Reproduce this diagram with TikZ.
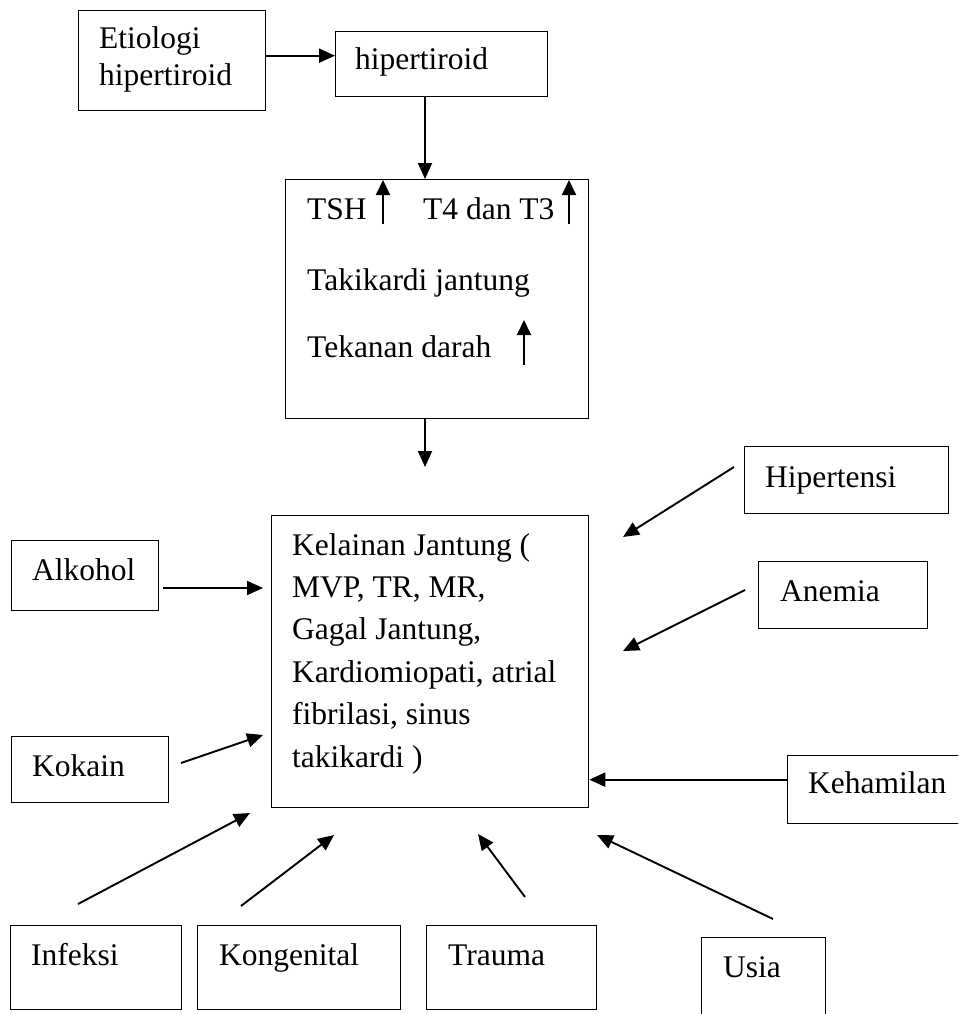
\documentclass[tikz,border=0pt]{standalone}
\usepackage{fontspec}
\setmainfont{Liberation Serif}
\usetikzlibrary{arrows.meta}
\begin{document}
\begin{tikzpicture}[x=1pt,y=-1pt,
  box/.style={draw, line width=1.3pt, anchor=north west, inner sep=0pt},
  txt/.style={anchor=base west, inner sep=0pt, font=\fontsize{31.5}{38}\selectfont},
  arr/.style={line width=1.9pt, -{Triangle[length=16pt,width=14pt]}},
  uparr/.style={line width=1.9pt, -{Triangle[length=15pt,width=14pt]}}]
\clip (0,0) rectangle (958,1014);
\fill[white] (0,0) rectangle (958,1014);
% boxes
\node[box, minimum width=187pt, minimum height=100pt] (etio) at (78,10) {};
\node[box, minimum width=212pt, minimum height=65pt] (hiper) at (335,31) {};
\node[box, minimum width=303pt, minimum height=239pt] (tsh) at (285,179) {};
\node[box, minimum width=317pt, minimum height=292pt] (kel) at (271,515) {};
\node[box, minimum width=147pt, minimum height=70pt] (alk) at (11,540) {};
\node[box, minimum width=157pt, minimum height=66pt] (kok) at (11,736) {};
\node[box, minimum width=204pt, minimum height=67pt] (hipt) at (744,446) {};
\node[box, minimum width=169pt, minimum height=67pt] (anem) at (758,561) {};
\node[box, minimum width=185pt, minimum height=68pt] (keh) at (787,755) {};
\node[box, minimum width=171pt, minimum height=84pt] (inf) at (10,925) {};
\node[box, minimum width=203pt, minimum height=84pt] (kon) at (197,925) {};
\node[box, minimum width=170pt, minimum height=84pt] (tra) at (426,925) {};
\node[box, minimum width=124pt, minimum height=95pt] (usi) at (701,937) {};
% texts
\node[txt] (t1) at (99,49) {Etiologi};
\node[txt] (t2) at (99,86) {hipertiroid};
\node[txt] (t3) at (355,70) {hipertiroid};
\node[txt] (t4) at (307,219) {TSH};
\node[txt] (t5) at (423,219) {T4 dan T3};
\node[txt] (t6) at (307,290) {Takikardi jantung};
\node[txt] (t7) at (307,357) {Tekanan darah};
\node[txt] (k1) at (292,555) {Kelainan Jantung (};
\node[txt] (k2) at (292,597) {MVP, TR, MR,};
\node[txt] (k3) at (292,639) {Gagal Jantung,};
\node[txt] (k4) at (292,682) {Kardiomiopati, atrial};
\node[txt] (k5) at (292,724) {fibrilasi, sinus};
\node[txt] (k6) at (292,767) {takikardi )};
\node[txt] (t8) at (32,580) {Alkohol};
\node[txt] (t9) at (32,776) {Kokain};
\node[txt] (t10) at (765,487) {Hipertensi};
\node[txt] (t11) at (780,601) {Anemia};
\node[txt] (t12) at (808,793) {Kehamilan};
\node[txt] (t13) at (31,965) {Infeksi};
\node[txt] (t14) at (219,965) {Kongenital};
\node[txt] (t15) at (448,965) {Trauma};
\node[txt] (t16) at (723,977) {Usia};
% coordinates
\coordinate (xc) at (425,0);
\coordinate (kin) at (425,467);
\coordinate (alkS) at (163,588);
\coordinate (alkE) at (263,588);
\coordinate (kokS) at (181,763);
\coordinate (kokE) at (263,735);
\coordinate (hiptS) at (734,467);
\coordinate (hiptE) at (623,537);
\coordinate (anemS) at (745,590);
\coordinate (anemE) at (623,651);
\coordinate (infS) at (78,904);
\coordinate (infE) at (250,813);
\coordinate (konS) at (241,906);
\coordinate (konE) at (334,835);
\coordinate (traS) at (525,897);
\coordinate (traE) at (478,834);
\coordinate (usiS) at (773,919);
\coordinate (usiE) at (597,835);
\coordinate (u1s) at (383,224);
\coordinate (u1e) at (383,180);
\coordinate (u2s) at (569,224);
\coordinate (u2e) at (569,180);
\coordinate (u3s) at (524,365);
\coordinate (u3e) at (524,320);
% arrows
\draw[arr] ([yshift=5pt]etio.east) -- ([yshift=5pt]etio.east -| hiper.west);
\draw[arr] (hiper.south -| xc) -- (tsh.north -| xc);
\draw[arr] (tsh.south -| xc) -- (kin);
\draw[arr] (alkS) -- (alkE);
\draw[arr] (kokS) -- (kokE);
\draw[arr] (hiptS) -- (hiptE);
\draw[arr] (anemS) -- (anemE);
\draw[arr] ([yshift=10pt]keh.west) -- ([yshift=10pt]keh.west -| kel.east);
\draw[arr] (infS) -- (infE);
\draw[arr] (konS) -- (konE);
\draw[arr] (traS) -- (traE);
\draw[arr] (usiS) -- (usiE);
\draw[uparr] (u1s) -- (u1e);
\draw[uparr] (u2s) -- (u2e);
\draw[uparr] (u3s) -- (u3e);
\end{tikzpicture}
\end{document}
